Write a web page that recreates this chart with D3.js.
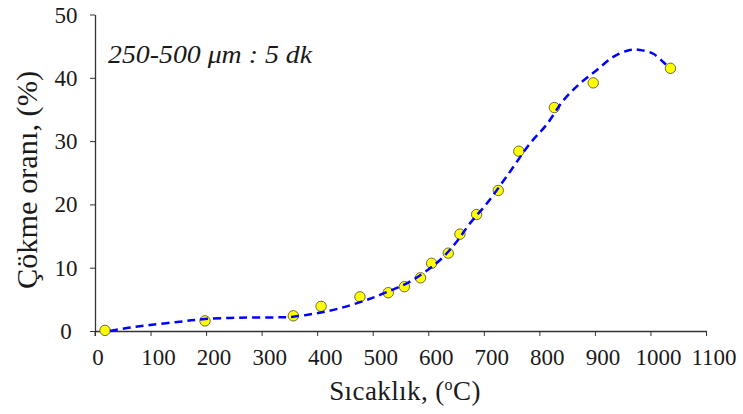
<!DOCTYPE html>
<html>
<head>
<meta charset="utf-8">
<script src="https://cdn.jsdelivr.net/npm/d3@7"></script>
<style>
  body { margin: 0; background: #fff; }
</style>
</head>
<body>
<div id="chart"></div>
<script>
// measured points (temperature °C, collapse %)
const tempPoints = [18, 198, 357, 407, 477, 528, 557, 586, 606, 636, 657, 687, 726, 763, 827, 897, 1036];
const collapsePoints = [0.1, 1.6, 2.4, 3.9, 5.4, 6.05, 7.0, 8.4, 10.7, 12.3, 15.3, 18.4, 22.2, 28.4, 35.3, 39.2, 41.5];

// fitted trend line
const fitTemp = [27, 60, 99, 153, 198, 261, 327, 357, 399, 441, 489, 513, 567, 603, 627, 651, 675, 705, 741, 783, 813, 843, 873, 903, 933, 963, 981, 1005, 1023, 1028];
const fitCollapse = [0, 0.5, 0.95, 1.47, 1.9, 2.1, 2.16, 2.26, 2.8, 3.6, 4.9, 5.7, 7.8, 9.9, 11.7, 14.1, 17.0, 20.1, 24.4, 29.6, 32.6, 36.4, 39.1, 41.2, 43.3, 44.4, 44.4, 43.8, 42.5, 42.1];

const xTicks = [0, 100, 200, 300, 400, 500, 600, 700, 800, 900, 1000, 1100];
const yTicks = [0, 10, 20, 30, 40, 50];

const width = 743;
const height = 414;
const serif = '"Liberation Serif", "DejaVu Serif", serif';

const svg = d3.select('#chart').append('svg')
    .attr('width', width)
    .attr('height', height)
    .style('font-family', serif);

const x = d3.scaleLinear().domain([0, 1100]).range([95, 706]);
const y = d3.scaleLinear().domain([0, 50]).range([331, 14.5]);

// axes
const xAxis = svg.append('g')
    .attr('transform', `translate(0,${y(0)})`)
    .call(d3.axisBottom(x).tickValues(xTicks).tickSize(5).tickSizeOuter(0).tickFormat(''));
const yAxis = svg.append('g')
    .attr('transform', `translate(${x(0)},0)`)
    .call(d3.axisLeft(y).tickValues(yTicks).tickSize(5).tickSizeOuter(0).tickFormat(''));

[xAxis, yAxis].forEach(a => {
    a.select('.domain').attr('stroke', '#333').attr('stroke-width', 1.3);
    a.selectAll('.tick line').attr('stroke', '#333').attr('stroke-width', 1);
});
// y axis also pokes a little below the x axis at origin
svg.append('line')
    .attr('x1', x(0)).attr('x2', x(0))
    .attr('y1', y(0)).attr('y2', y(0) + 5)
    .attr('stroke', '#333');

// tick labels
svg.append('g').selectAll('text')
    .data(xTicks)
    .enter().append('text')
    .attr('x', d => x(d) + (d === 0 ? 3 : 8))
    .attr('y', 365)
    .attr('text-anchor', 'middle')
    .style('font-family', serif)
    .style('font-size', '23px')
    .attr('fill', '#1a1a1a')
    .text(d => d);

svg.append('g').selectAll('text')
    .data(yTicks)
    .enter().append('text')
    .attr('x', 66)
    .attr('y', d => y(d) + 8)
    .attr('text-anchor', 'middle')
    .style('font-family', serif)
    .style('font-size', '23px')
    .attr('fill', '#1a1a1a')
    .text(d => d);

// axis titles
const xTitle = svg.append('text')
    .attr('x', 405)
    .attr('y', 400)
    .attr('text-anchor', 'middle')
    .style('font-family', serif)
    .style('font-size', '27px')
    .style('letter-spacing', '0.4px')
    .attr('fill', '#1a1a1a');
xTitle.append('tspan').text('Sıcaklık, (');
xTitle.append('tspan').style('font-size', '16px').attr('dy', -10).text('o');
xTitle.append('tspan').attr('dy', 10).text('C)');

svg.append('text')
    .attr('transform', 'translate(37,180) rotate(-90)')
    .attr('text-anchor', 'middle')
    .style('font-family', serif)
    .style('font-size', '29px')
    .attr('textLength', 218)
    .attr('lengthAdjust', 'spacingAndGlyphs')
    .attr('fill', '#1a1a1a')
    .text('Çökme oranı, (%)');

// annotation
svg.append('text')
    .attr('x', 108)
    .attr('y', 63)
    .style('font-family', serif)
    .style('font-size', '25px')
    .style('font-style', 'italic')
    .attr('textLength', 204)
    .attr('lengthAdjust', 'spacingAndGlyphs')
    .attr('fill', '#1a1a1a')
    .text('250-500 μm : 5 dk');

// points
const points = tempPoints.map((t, i) => ({ t: t, v: collapsePoints[i] }));
svg.append('g').selectAll('circle')
    .data(points)
    .enter().append('circle')
    .attr('cx', d => x(d.t))
    .attr('cy', d => y(d.v))
    .attr('r', 5.2)
    .attr('fill', '#ffff00')
    .attr('stroke', '#6e6a3a')
    .attr('stroke-width', 1);

// fitted curve
const fit = fitTemp.map((t, i) => ({ t: t, v: fitCollapse[i] }));
const line = d3.line()
    .x(d => x(d.t))
    .y(d => y(d.v))
    .curve(d3.curveCatmullRom);

svg.append('path')
    .datum(fit)
    .attr('d', line)
    .attr('fill', 'none')
    .attr('stroke', '#0000ff')
    .attr('stroke-width', 2.5)
    .attr('stroke-dasharray', '8,5');
</script>
</body>
</html>
